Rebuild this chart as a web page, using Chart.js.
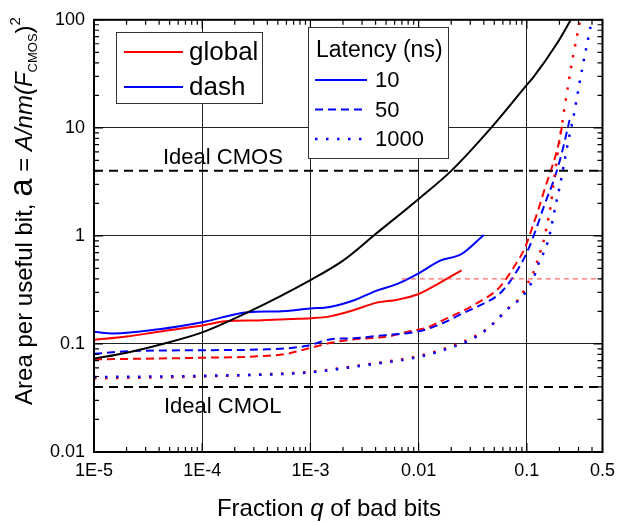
<!DOCTYPE html>
<html>
<head>
<meta charset="utf-8">
<title>Area per useful bit vs fraction of bad bits</title>
<script src="https://cdn.jsdelivr.net/npm/chart.js@4.4.1/dist/chart.umd.min.js"></script>
<style>
  html, body { margin: 0; padding: 0; background: #fff; }
  #wrap { position: relative; width: 623px; height: 522px; }
</style>
</head>
<body>
<div id="wrap"><canvas id="chart"></canvas></div>
<script>
// values: q = fraction of bad bits, a = area per useful bit
const cmosQ = [1e-5, 2e-5, 4.3e-5, 1e-4, 2.6e-4, 1e-3, 2e-3, 4e-3, 0.01, 0.02, 0.0467, 0.1, 0.116, 0.189, 0.255];
const cmosA = [0.073, 0.083, 0.1, 0.128, 0.195, 0.39, 0.59, 1.04, 2.2, 4.0, 10, 25, 29.8, 60, 100];

const global10Q = [1e-5, 2e-5, 4e-5, 1e-4, 1.64e-4, 3.3e-4, 6.6e-4, 1e-3, 1.51e-3, 2.57e-3, 4.04e-3, 6.37e-3, 0.01, 0.0158, 0.0249];
const global10A = [0.109, 0.117, 0.13, 0.148, 0.162, 0.165, 0.17, 0.173, 0.18, 0.207, 0.24, 0.257, 0.29, 0.37, 0.48];

const dash10Q = [1e-5, 1.52e-5, 4e-5, 1e-4, 2.68e-4, 5e-4, 1e-3, 1.51e-3, 2.57e-3, 4.04e-3, 6.37e-3, 0.01, 0.0158, 0.0249, 0.04];
const dash10A = [0.13, 0.125, 0.137, 0.159, 0.197, 0.2, 0.213, 0.22, 0.255, 0.31, 0.36, 0.45, 0.59, 0.68, 1.02];

const global50Q = [1e-5, 1e-4, 3e-4, 6e-4, 1e-3, 1.6e-3, 2.5e-3, 5.4e-3, 8e-3, 0.012, 0.017, 0.025, 0.035, 0.0556, 0.0762, 0.096, 0.111, 0.129, 0.149, 0.17, 0.196, 0.213];
const global50A = [0.072, 0.0745, 0.0765, 0.081, 0.092, 0.103, 0.11, 0.118, 0.13, 0.142, 0.167, 0.2, 0.24, 0.332, 0.518, 0.775, 1.16, 1.81, 2.89, 4.27, 7.0, 10.8];

const dash50Q = [1e-5, 2e-5, 1e-4, 3.7e-4, 9e-4, 1.6e-3, 2.5e-3, 5.4e-3, 7.5e-3, 0.012, 0.017, 0.025, 0.035, 0.0556, 0.0726, 0.1, 0.123, 0.146, 0.176, 0.203, 0.22, 0.248];
const dash50A = [0.081, 0.0855, 0.0875, 0.089, 0.0955, 0.111, 0.113, 0.122, 0.125, 0.137, 0.157, 0.19, 0.222, 0.29, 0.40, 0.70, 1.19, 1.96, 3.2, 5.1, 7.0, 11.8];

const global1000Q = [1e-5, 1e-4, 5e-4, 1e-3, 3e-3, 0.01, 0.02, 0.0316, 0.0432, 0.0556, 0.0686, 0.0881, 0.1, 0.1135, 0.1234, 0.134, 0.146, 0.155, 0.166, 0.176, 0.188, 0.196, 0.217, 0.241, 0.268, 0.311];
const global1000A = [0.048, 0.05, 0.053, 0.0552, 0.0638, 0.0775, 0.0948, 0.115, 0.139, 0.175, 0.217, 0.274, 0.353, 0.447, 0.564, 0.728, 0.98, 1.32, 1.89, 3.01, 4.91, 6.6, 12.8, 25.2, 46.5, 100];

const dash1000Q = [1e-5, 1e-4, 1e-3, 3e-3, 0.01, 0.02, 0.0316, 0.0432, 0.0686, 0.0881, 0.104, 0.116, 0.126, 0.143, 0.159, 0.169, 0.184, 0.203, 0.222, 0.241, 0.268, 0.298, 0.33, 0.367, 0.399];
const dash1000A = [0.0494, 0.0507, 0.0546, 0.063, 0.0758, 0.0928, 0.112, 0.138, 0.217, 0.265, 0.332, 0.41, 0.53, 0.70, 0.937, 1.24, 1.89, 3.0, 4.81, 7.5, 12.2, 22.2, 38.5, 65.4, 100];

const markerQ = [0.007, 0.5];
const markerA = [0.4, 0.4];

const idealQ = [1e-5, 0.5];
const idealCmosA = [4, 4];
const idealCmolA = [0.04, 0.04];

const xTickValues = [1e-5, 1e-4, 1e-3, 0.01, 0.1, 0.5];
const xTickLabels = ['1E-5', '1E-4', '1E-3', '0.01', '0.1', '0.5'];
const yTickValues = [0.01, 0.1, 1, 10, 100];
const yTickLabels = ['0.01', '0.1', '1', '10', '100'];

const styleLabels   = ['global', 'dash'];
const latencyTitle  = 'Latency (ns)';
const latencyLabels = ['10', '50', '1000'];

const FONT = '"Liberation Sans", Arial, sans-serif';
const RED  = '#ff0000';
const BLUE = '#0000ff';
const DASH = [8, 5];
const DOT  = [2.5, 8.5];

const pts = (xs, ys) => xs.map((x, i) => ({ x, y: ys[i] }));
const findTick = (v, list) => list.findIndex(t => Math.abs(Math.log10(v) - Math.log10(t)) < 1e-6);
const isDecade = v => Math.abs(Math.log10(v) - Math.round(Math.log10(v))) < 1e-6;

function logTicks(min, max) {
  const out = [];
  for (let e = Math.floor(Math.log10(min)); e <= Math.ceil(Math.log10(max)); e++) {
    for (let m = 1; m < 10; m++) {
      const v = Number((m * Math.pow(10, e)).toPrecision(6));
      if (v >= min * 0.999 && v <= max * 1.001) out.push(v);
    }
  }
  return out;
}
const xMinor = logTicks(1e-5, 0.5);
const yMinor = logTicks(0.01, 100);

function curve(label, xs, ys, color, dash, width) {
  return {
    label,
    data: pts(xs, ys),
    borderColor: color,
    borderWidth: width || 2,
    borderDash: dash || [],
    pointRadius: 0,
    fill: false,
    cubicInterpolationMode: 'monotone'
  };
}

// draws a row of text pieces with their own fonts, centred on x = 0
function drawRuns(ctx, runs) {
  let total = 0;
  runs.forEach(r => { ctx.font = r.f; r.w = ctx.measureText(r.t).width; total += r.w; });
  let x = -total / 2;
  ctx.textAlign = 'left';
  ctx.textBaseline = 'alphabetic';
  runs.forEach(r => { ctx.font = r.f; ctx.fillText(r.t, x, r.dy || 0); x += r.w; });
}

const frame = {
  id: 'frame',
  afterDatasetsDraw(chart) {
    const { ctx, chartArea: a, scales: { x, y } } = chart;
    ctx.save();
    ctx.strokeStyle = '#000';
    ctx.lineWidth = 1.2;
    ctx.beginPath();
    xMinor.forEach(v => {
      const px = x.getPixelForValue(v);
      const len = isDecade(v) ? 9 : 5;
      ctx.moveTo(px, a.bottom); ctx.lineTo(px, a.bottom - len);
      ctx.moveTo(px, a.top);    ctx.lineTo(px, a.top + len);
    });
    yMinor.forEach(v => {
      const py = y.getPixelForValue(v);
      const len = isDecade(v) ? 9 : 5;
      ctx.moveTo(a.left, py);  ctx.lineTo(a.left + len, py);
      ctx.moveTo(a.right, py); ctx.lineTo(a.right - len, py);
    });
    ctx.stroke();
    ctx.lineWidth = 2;
    ctx.strokeRect(a.left, a.top, a.right - a.left, a.bottom - a.top);

    // annotations for the two ideal lines
    ctx.fillStyle = '#000';
    ctx.font = `22px ${FONT}`;
    ctx.textAlign = 'left';
    ctx.textBaseline = 'alphabetic';
    ctx.fillText('Ideal CMOS', a.left + 69, y.getPixelForValue(4) - 7);
    ctx.fillText('Ideal CMOL', a.left + 70, y.getPixelForValue(0.04) + 26);

    // legend: line style
    ctx.fillStyle = '#fff';
    ctx.strokeStyle = '#333';
    ctx.lineWidth = 1;
    ctx.fillRect(116.5, 32.5, 146, 71);
    ctx.strokeRect(116.5, 32.5, 146, 71);
    ctx.lineWidth = 2;
    [RED, BLUE].forEach((c, i) => {
      const ly = 52 + i * 35;
      ctx.strokeStyle = c;
      ctx.beginPath(); ctx.moveTo(124, ly); ctx.lineTo(183, ly); ctx.stroke();
      ctx.fillStyle = '#000';
      ctx.font = `26px ${FONT}`;
      ctx.textBaseline = 'middle';
      ctx.fillText(styleLabels[i], 189, ly + 1);
    });

    // legend: latency
    ctx.fillStyle = '#fff';
    ctx.strokeStyle = '#333';
    ctx.lineWidth = 1;
    ctx.fillRect(308.5, 27.5, 140, 131);
    ctx.strokeRect(308.5, 27.5, 140, 131);
    ctx.fillStyle = '#000';
    ctx.font = `23px ${FONT}`;
    ctx.textBaseline = 'middle';
    ctx.fillText(latencyTitle, 316, 51);
    [[], DASH, DOT].forEach((d, i) => {
      const ly = 80 + i * 29.5;
      ctx.strokeStyle = BLUE;
      ctx.lineWidth = i === 2 ? 2.5 : 2;
      ctx.setLineDash(d);
      ctx.beginPath(); ctx.moveTo(315, ly); ctx.lineTo(367, ly); ctx.stroke();
      ctx.setLineDash([]);
      ctx.font = `22px ${FONT}`;
      ctx.fillText(latencyLabels[i], 375, ly + 1);
    });
    ctx.restore();
  },
  afterDraw(chart) {
    const { ctx } = chart;
    ctx.save();
    ctx.fillStyle = '#000';
    // y axis title, rotated
    ctx.translate(32, 211);
    ctx.rotate(-Math.PI / 2);
    drawRuns(ctx, [
      { t: 'Area per useful bit, ', f: `24px ${FONT}` },
      { t: 'a', f: `33px ${FONT}` },
      { t: ' = ', f: `24px ${FONT}` },
      { t: 'A/nm(F', f: `italic 24px ${FONT}` },
      { t: 'CMOS', f: `13px ${FONT}`, dy: 5 },
      { t: ')', f: `24px ${FONT}` },
      { t: '2', f: `15px ${FONT}`, dy: -12 }
    ]);
    ctx.restore();
    ctx.save();
    ctx.fillStyle = '#000';
    ctx.translate(329, 516);
    drawRuns(ctx, [
      { t: 'Fraction ', f: `24px ${FONT}` },
      { t: 'q', f: `italic 24px ${FONT}` },
      { t: ' of bad bits', f: `24px ${FONT}` }
    ]);
    ctx.restore();
  }
};

const gridColor = c => (c.tick && isDecade(c.tick.value)) ? '#222' : 'rgba(0,0,0,0)';

new Chart(document.getElementById('chart'), {
  type: 'line',
  data: {
    datasets: [
      curve('Ideal CMOS', idealQ, idealCmosA, '#000', [9, 6]),
      curve('Ideal CMOL', idealQ, idealCmolA, '#000', [9, 6]),
      curve('marker', markerQ, markerA, '#ff4040', [5, 4], 1),
      curve('CMOS', cmosQ, cmosA, '#000'),
      curve('dash 1000', dash1000Q, dash1000A, BLUE, DOT, 2.5),
      curve('global 1000', global1000Q, global1000A, RED, DOT, 2.5),
      curve('dash 50', dash50Q, dash50A, BLUE, DASH),
      curve('global 50', global50Q, global50A, RED, DASH),
      curve('dash 10', dash10Q, dash10A, BLUE),
      curve('global 10', global10Q, global10A, RED)
    ]
  },
  options: {
    responsive: true,
    maintainAspectRatio: false,
    animation: false,
    layout: { padding: { top: 18, right: 13, left: 0, bottom: 0 } },
    plugins: { legend: { display: false }, tooltip: { enabled: false } },
    scales: {
      x: {
        type: 'logarithmic',
        min: 1e-5,
        max: 0.5,
        afterBuildTicks: s => { s.ticks = xMinor.map(v => ({ value: v })); },
        afterFit: s => { s.height = 70; },
        border: { display: false },
        grid: { color: gridColor, lineWidth: 1, drawTicks: false },
        ticks: {
          autoSkip: false, maxRotation: 0, padding: 8, color: '#000',
          font: { family: FONT, size: 18 },
          callback: v => { const i = findTick(v, xTickValues); return i < 0 ? '' : xTickLabels[i]; }
        }
      },
      y: {
        type: 'logarithmic',
        min: 0.01,
        max: 100,
        afterBuildTicks: s => { s.ticks = yMinor.map(v => ({ value: v })); },
        afterFit: s => { s.width = 94; },
        border: { display: false },
        grid: { color: gridColor, lineWidth: 1, drawTicks: false },
        ticks: {
          autoSkip: false, padding: 9, color: '#000',
          font: { family: FONT, size: 18 },
          callback: v => { const i = findTick(v, yTickValues); return i < 0 ? '' : yTickLabels[i]; }
        }
      }
    }
  },
  plugins: [frame]
});
</script>
</body>
</html>
